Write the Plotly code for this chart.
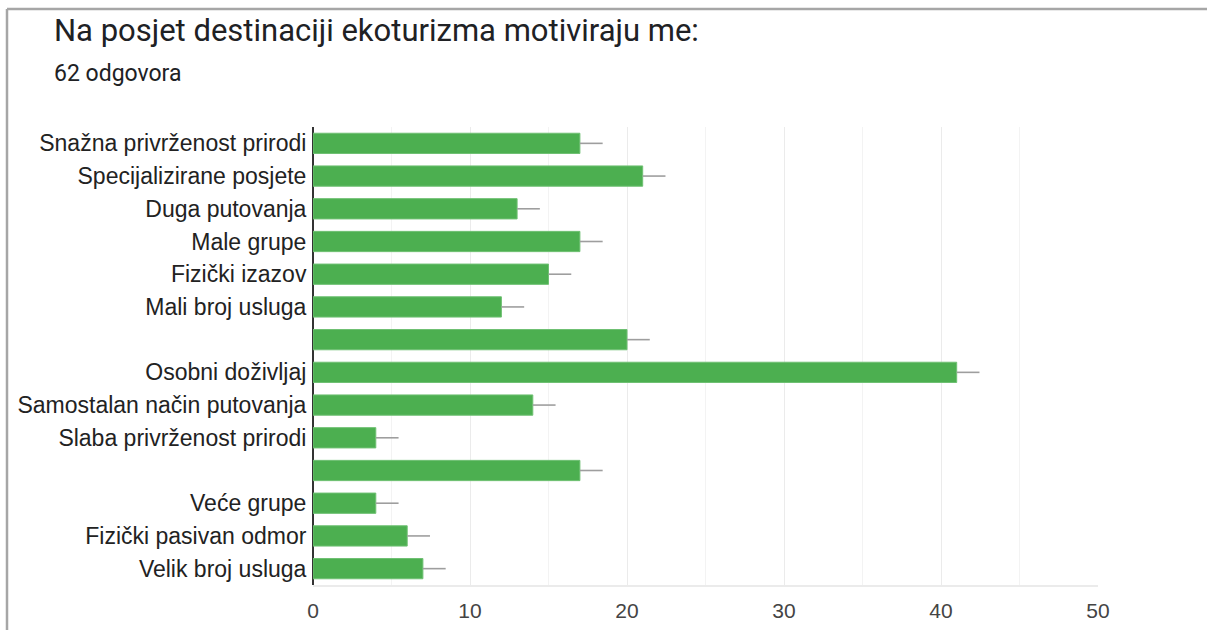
import plotly.graph_objects as go

categories = [
    "Snažna privrženost prirodi",
    "Specijalizirane posjete",
    "Duga putovanja",
    "Male grupe",
    "Fizički izazov",
    "Mali broj usluga",
    "",
    "Osobni doživljaj",
    "Samostalan način putovanja",
    "Slaba privrženost prirodi",
    "",
    "Veće grupe",
    "Fizički pasivan odmor",
    "Velik broj usluga",
]
values = [17, 21, 13, 17, 15, 12, 20, 41, 14, 4, 17, 4, 6, 7]
err_plus = [1.45, 1.45, 1.45, 1.45, 1.45, 1.45, 1.45, 1.45, 1.45, 1.45, 1.45, 1.45, 1.45, 1.45]
err_minus = [0] * len(values)
x_ticks = [0, 10, 20, 30, 40, 50]
positions = list(range(len(categories)))

W, H = 1207, 630
L, R, T, B = 313, 109, 127, 45
pw, ph = W - L - R, H - T - B

def px(x):
    return (x - L) / pw

def py(y):
    return (H - B - y) / ph

fig = go.Figure()
fig.add_trace(go.Bar(
    x=values, y=positions, orientation="h",
    marker=dict(color="#4CAF50", line=dict(color="#6fc073", width=1)),
    error_x=dict(type="data", symmetric=False, array=err_plus, arrayminus=err_minus,
                 color="#9e9e9e", thickness=1.6, width=0),
    width=0.62,
    hoverinfo="x+y",
))

fig.update_layout(
    width=W, height=H,
    margin=dict(l=L, r=R, t=T, b=B, autoexpand=False),
    paper_bgcolor="white", plot_bgcolor="white",
    showlegend=False,
    xaxis=dict(
        range=[0, 50], tickvals=x_ticks, ticktext=[str(t) for t in x_ticks],
        showgrid=True, gridcolor="#ebebeb", gridwidth=1,
        minor=dict(dtick=5, showgrid=True, gridcolor="#f3f3f3", gridwidth=1),
        zeroline=True, zerolinecolor="#333333", zerolinewidth=2,
        showline=True, linecolor="#ebebeb", linewidth=2, mirror=False,
        tickfont=dict(family="Liberation Sans, Arial, sans-serif", size=21, color="#444444"),
        ticks="outside", ticklen=6, tickcolor="rgba(0,0,0,0)",
        fixedrange=True,
    ),
    yaxis=dict(
        range=[len(categories) - 0.5, -0.5],
        tickvals=positions, ticktext=categories,
        showgrid=False, zeroline=False,
        tickfont=dict(family="Liberation Sans, Arial, sans-serif", size=23, color="#222222"),
        ticks="outside", ticklen=1, tickcolor="rgba(0,0,0,0)",
        fixedrange=True,
    ),
    annotations=[
        dict(text="Na posjet destinaciji ekoturizma motiviraju me:", xref="paper", yref="paper",
             x=px(52), y=py(31), xanchor="left", yanchor="middle", showarrow=False,
             font=dict(family="Roboto, sans-serif", size=31, color="#202124")),
        dict(text="62 odgovora", xref="paper", yref="paper",
             x=px(52), y=py(73), xanchor="left", yanchor="middle", showarrow=False,
             font=dict(family="Roboto, sans-serif", size=23, color="#202124")),
    ],
    shapes=[
        dict(type="line", xref="paper", yref="paper", x0=px(7), x1=px(W + 5), y0=py(9), y1=py(9),
             line=dict(color="#a6a6a6", width=2.5)),
        dict(type="line", xref="paper", yref="paper", x0=px(7), x1=px(7), y0=py(9), y1=py(H + 5),
             line=dict(color="#a6a6a6", width=2.5)),
    ],
)

fig.write_html("out.html", config={"displayModeBar": False},
               post_script="document.body.style.margin='0';document.body.style.overflow='hidden';")
